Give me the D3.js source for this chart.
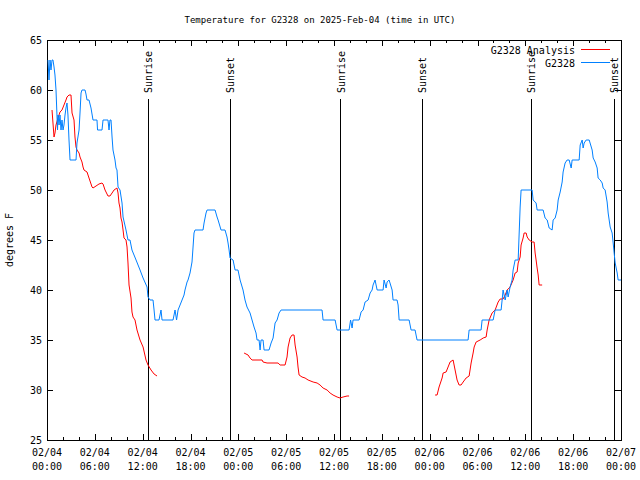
<!DOCTYPE html>
<html><head><meta charset="utf-8">
<script src="https://cdn.jsdelivr.net/npm/d3@7"></script>
<style>body{margin:0;background:#fff}svg{display:block}text{font-family:"DejaVu Sans Mono",monospace;font-size:10px;fill:#000}</style>
</head><body><svg id="c" width="640" height="480"></svg>
<script>
const title = "Temperature for G2328 on 2025-Feb-04 (time in UTC)";
const yLabel = "degrees F";
const seriesNames = ["G2328 Analysis", "G2328"];
const seriesColors = ["#ff0000", "#0080ff"];
const yTicks = [25, 30, 35, 40, 45, 50, 55, 60, 65];
const xTickHours = [0, 6, 12, 18, 24, 30, 36, 42, 48, 54, 60, 66, 72];
const xTickDates = ["02/04","02/04","02/04","02/04","02/05","02/05","02/05","02/05","02/06","02/06","02/06","02/06","02/07"];
const xTickTimes = ["00:00","06:00","12:00","18:00","00:00","06:00","12:00","18:00","00:00","06:00","12:00","18:00","00:00"];
const sunHours = [12.71, 23.0, 36.85, 47.09, 60.77, 71.18];
const sunLabels = ["Sunrise","Sunset","Sunrise","Sunset","Sunrise","Sunset"];

// hours since 02/04 00:00 UTC, temperature F
const blueObs = [[0.13,63],[0.25,61],[0.38,63],[0.50,62],[0.63,63],[0.75,63],[0.88,62.3],[1.00,61.5],[1.13,60],[1.25,57.5],[1.32,56],[1.38,57.5],[1.51,56.5],[1.63,57.5],[1.76,56],[1.88,57],[2.01,56],[2.13,56.5],[2.26,57.5],[2.38,58.2],[2.51,58.7],[2.63,57.5],[2.76,55],[2.89,53],[3.64,53],[3.76,54.7],[4.02,56],[4.14,57.7],[4.27,59.7],[4.39,60],[4.77,60],[4.89,59.6],[5.02,59],[5.27,59],[5.52,58.2],[5.77,57],[6.27,57],[6.34,56],[6.90,56],[7.03,57],[7.65,57],[7.78,56],[7.90,57],[8.03,57],[8.16,55.3],[8.28,54],[8.53,53],[8.66,52.2],[8.78,52],[8.91,50.3],[9.16,50],[9.41,48.7],[9.54,47.3],[9.91,46],[10.16,45],[10.41,45],[10.66,44],[11.17,43],[11.67,42],[12.05,41.2],[12.55,40.3],[12.67,39.3],[12.92,39],[13.30,39],[13.43,38],[13.55,37],[14.05,37],[14.30,38],[14.43,37],[15.81,37],[16.06,38],[16.25,37],[16.44,38],[16.69,38.5],[16.94,39],[17.19,39.5],[17.31,40],[17.57,40.8],[17.69,41],[17.94,41.7],[18.19,42.8],[18.32,44.3],[18.44,45.7],[18.57,46],[19.57,46],[19.70,46.7],[19.95,47.7],[20.08,48],[21.08,48],[21.33,47.3],[21.46,47],[21.83,46],[22.33,46],[22.58,45.3],[22.71,44.7],[22.84,44],[22.96,43.2],[23.34,43],[23.59,42],[23.96,42],[24.22,41],[24.59,40],[24.84,39],[25.09,38.3],[25.47,37.7],[25.72,37],[25.97,36.3],[26.22,35.7],[26.35,35],[26.60,35],[26.73,34],[26.85,35],[27.10,35],[27.23,34],[27.85,34],[28.11,34.7],[28.36,35.2],[28.61,36.7],[28.86,37],[29.11,37.7],[29.36,38],[34.50,38],[34.63,37],[36.14,37],[36.39,36],[37.89,36],[38.08,37],[38.27,36.2],[38.39,37],[39.15,37],[39.40,37.8],[39.65,38],[39.90,38.8],[40.28,39],[40.53,39.7],[40.78,40],[40.90,40.5],[41.15,41],[41.41,40],[42.16,40],[42.28,41],[42.54,40.2],[42.66,40.8],[42.91,41],[43.29,40],[43.41,39],[43.91,39],[44.04,38.5],[44.17,37],[45.42,37],[45.67,36],[46.17,36],[46.42,35],[52.82,35],[52.95,36],[54.45,36],[54.58,37],[55.96,37],[56.21,38],[56.96,38],[57.09,39],[57.21,40],[57.47,39],[57.72,40],[57.84,39.3],[58.09,40.3],[58.34,41],[58.47,42],[58.72,43],[59.10,43],[59.35,48.3],[59.47,50],[60.85,50],[60.98,49],[61.35,48.7],[61.48,48],[62.23,48],[62.48,47.2],[62.74,47],[62.99,46.2],[63.36,46],[63.49,47],[63.74,47.2],[63.99,48],[64.12,49],[64.37,49.8],[64.62,50.8],[64.74,51.8],[64.99,52.7],[65.24,53],[65.50,53],[65.75,52.2],[65.87,53],[66.75,53],[66.88,54.5],[67.13,55],[67.25,54.2],[67.38,54.7],[67.63,55],[68.01,55],[68.38,54],[68.51,53.2],[68.76,52.8],[69.01,52.2],[69.13,51.2],[69.39,51],[69.64,50.7],[69.76,50.2],[70.01,50],[70.26,48.8],[70.39,47.7],[70.64,46.3],[70.89,45.7],[71.02,44.7],[71.14,43.7],[71.27,42.7],[71.52,41.7],[71.64,41],[72.00,41]];

const redSeg1 = [[0.63,58],[0.75,56.7],[0.88,55.3],[1.00,55.7],[1.13,56.5],[1.38,57.2],[1.63,57.8],[1.88,58],[2.13,58.5],[2.38,59],[2.51,59.3],[2.76,59.5],[3.01,59.5],[3.14,57.7],[3.39,57],[3.51,55.3],[3.64,54.3],[3.76,54],[4.02,53.7],[4.14,53.3],[4.39,52.8],[4.52,52.3],[4.64,52],[5.02,51.8],[5.27,51.2],[5.65,50.3],[5.77,50.2],[6.15,50.4],[6.52,50.6],[6.90,50.7],[7.03,50.6],[7.28,50],[7.65,49.4],[7.90,49.4],[8.16,49.7],[8.41,50],[8.78,50.2],[8.91,49.7],[9.03,48.7],[9.16,48.2],[9.28,47.2],[9.41,46.8],[9.54,46],[9.66,45.2],[9.91,45],[10.04,44.3],[10.16,42.7],[10.29,40.5],[10.54,39.2],[10.66,37.8],[10.79,37.3],[11.04,37],[11.29,36],[11.67,35],[12.05,34.3],[12.42,33],[12.67,32.5],[13.05,32],[13.43,31.6],[13.80,31.4]];
const redSeg2 = [[24.72,33.7],[25.22,33.5],[25.47,33.2],[25.72,33],[26.98,33],[27.10,32.8],[27.60,32.7],[28.98,32.7],[29.24,32.5],[29.86,32.5],[30.11,33.3],[30.24,34.3],[30.49,35.2],[30.74,35.5],[30.99,35.5],[31.12,34.5],[31.37,33.3],[31.49,32.3],[31.62,31.5],[31.99,31.3],[32.37,31.2],[32.75,31],[33.38,30.8],[33.88,30.7],[34.25,30.5],[34.63,30.2],[35.13,30],[35.51,29.7],[35.88,29.5],[36.39,29.3],[36.76,29.2],[37.14,29.3],[37.64,29.4],[37.89,29.4]];
const redSeg3 = [[48.68,29.5],[48.93,29.5],[49.18,30.3],[49.56,31.2],[49.69,31.7],[50.06,31.8],[50.31,32.3],[50.56,32.8],[50.94,33],[51.19,32],[51.44,31],[51.69,30.5],[51.94,30.5],[52.20,30.8],[52.57,31.2],[52.95,31.4],[53.20,32.7],[53.45,33.7],[53.58,34.3],[53.83,34.8],[54.33,35],[54.71,35.2],[55.08,35.3],[55.21,36],[55.46,37],[55.83,37.7],[56.21,38],[56.59,38.8],[56.84,39.1],[57.21,39.1],[57.47,39.5],[57.72,40],[58.09,40.3],[58.47,41],[58.72,41.7],[58.97,41.8],[59.10,42.7],[59.35,43.3],[59.47,44.5],[59.72,45.2],[59.85,45.7],[60.10,45.7],[60.23,45.3],[60.48,45],[60.85,44.8],[61.10,44.8],[61.23,43.7],[61.35,43],[61.48,42.2],[61.61,41.5],[61.73,40.5],[62.11,40.5]];

const L = 47, R = 621, T = 40, B = 440;
const svg = d3.select("#c");
const x = d3.scaleLinear().domain([0, 72]).range([L, R]);
const y = d3.scaleLinear().domain([25, 65]).range([B, T]);

svg.append("text").attr("x", 320).attr("y", 23).attr("text-anchor", "middle").style("font-size", "9px").text(title);
svg.append("text").attr("transform", "translate(13,240) rotate(-90)").attr("text-anchor", "middle").text(yLabel);

const minorHours = d3.range(0, 73, 2).filter(h => h % 6 !== 0);
function axis(gen, tx, ty, vals, size, fmt) {
  const g = svg.append("g").attr("transform", `translate(${tx},${ty})`)
    .call(gen.tickValues(vals).tickSize(size).tickPadding(5).tickFormat(fmt || ""));
  g.select(".domain").remove();
  g.selectAll("line").attr("stroke", "#000").attr("shape-rendering", "crispEdges");
  g.selectAll("text").attr("font-family", "DejaVu Sans Mono").attr("font-size", 10);
  return g;
}
axis(d3.axisBottom(x), 0, B, xTickHours, -6);
axis(d3.axisBottom(x), 0, B, minorHours, -3);
axis(d3.axisTop(x), 0, T, xTickHours, -6);
axis(d3.axisTop(x), 0, T, minorHours, -3);
axis(d3.axisLeft(y), L, 0, yTicks, -6, d => d);
axis(d3.axisRight(y), R, 0, yTicks, -6);

xTickHours.forEach((h, i) => {
  const t = svg.append("text").attr("text-anchor", "middle");
  t.append("tspan").attr("x", x(h)).attr("y", 456).text(xTickDates[i]);
  t.append("tspan").attr("x", x(h)).attr("y", 470).text(xTickTimes[i]);
});

svg.append("rect").attr("x", L + 0.5).attr("y", T + 0.5).attr("width", R - L).attr("height", B - T)
  .attr("fill", "none").attr("stroke", "#000").attr("shape-rendering", "crispEdges");

// sun lines
sunHours.forEach((h, i) => {
  svg.append("line").attr("x1", x(h)).attr("x2", x(h)).attr("y1", 99).attr("y2", B)
    .attr("stroke", "#000").attr("shape-rendering", "crispEdges");
  svg.append("text").attr("transform", `translate(${x(h) + 4},93) rotate(-90)`)
    .attr("text-anchor", "start").text(sunLabels[i]);
});

const line = d3.line().x(d => x(d[0])).y(d => y(d[1]));
[redSeg1, redSeg2, redSeg3].forEach(seg => {
  svg.append("path").attr("d", line(seg)).attr("fill", "none").attr("stroke", seriesColors[0]).attr("stroke-width", 1);
});
svg.append("path").attr("d", line(blueObs)).attr("fill", "none").attr("stroke", seriesColors[1]).attr("stroke-width", 1);

// legend
seriesNames.forEach((n, i) => {
  const yy = 50 + i * 13;
  svg.append("text").attr("x", 575).attr("y", yy + 4).attr("text-anchor", "end").text(n);
  svg.append("line").attr("x1", 581).attr("x2", 610).attr("y1", yy - 0.5).attr("y2", yy - 0.5)
    .attr("stroke", seriesColors[i]).attr("shape-rendering", "crispEdges");
});
</script></body></html>
